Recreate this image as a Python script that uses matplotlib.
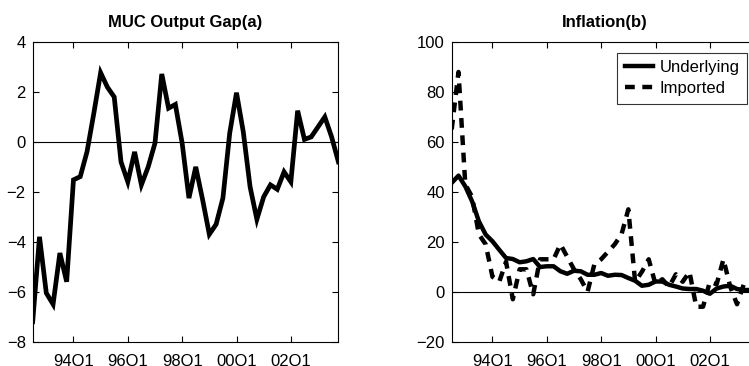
import matplotlib
matplotlib.use("Agg")
import matplotlib.pyplot as plt
import numpy as np

plt.rcParams["font.family"] = ["Liberation Sans", "DejaVu Sans"]

# quarterly data, 92Q3 .. 03Q4
TICK_POS = [6, 14, 22, 30, 38]
TICK_LABELS = ["94Q1", "96Q1", "98Q1", "00Q1", "02Q1"]

output_gap = [
    -7.2, -3.8, -6.05, -6.5, -4.45, -5.6, -1.52, -1.39, -0.39, 1.15,
    2.77, 2.19, 1.8, -0.8, -1.6, -0.4, -1.72, -1.0, -0.05, 2.72,
    1.35, 1.5, -0.05, -2.25, -1.0, -2.3, -3.7, -3.3, -2.25, 0.35,
    1.97, 0.4, -1.8, -3.1, -2.2, -1.72, -1.9, -1.2, -1.6, 1.25,
    0.1, 0.2, 0.6, 1.0, 0.2, -0.8,
]

underlying = [
    43.6, 46.5, 42.2, 36.2, 28.2, 22.9, 20.2, 16.8, 13.5, 13.1,
    11.8, 12.2, 13.1, 9.9, 10.2, 10.2, 8.2, 7.2, 8.4, 8.2,
    6.8, 6.8, 7.5, 6.4, 6.8, 6.7, 5.5, 4.4, 2.4, 2.8,
    4.1, 4.1, 2.8, 2.1, 1.3, 1.1, 1.1, 0.4, -0.8, 1.3,
    2.1, 2.4, 1.1, 0.7, 0.7, 0.7,
]

imported = [
    65, 88, 43, 38, 23, 19, 6, 4, 12, -3,
    9, 9, -1, 13, 13, 13, 19, 14, 9, 5,
    0, 11, 13, 16, 19, 23, 33, 4, 8, 13,
    3, 5, 2, 7, 4, 8, -6, -6, 4, 3,
    13, 2, -5, 3, 1, 1,
]

W, H = 749, 366
fig = plt.figure(figsize=(W / 100, H / 100), dpi=100)

# the right panel runs past the figure edge, as in the original crop
ax1 = fig.add_axes([32.7 / W, 24.3 / H, 305.7 / W, 299.7 / H])
ax2 = fig.add_axes([451.7 / W, 24.3 / H, 305.7 / W, 299.7 / H])

x = np.arange(len(output_gap))

ax1.plot(x, output_gap, color="black", lw=3.4, solid_joinstyle="miter")
ax1.set_ylim(-8, 4)
ax1.set_yticks([-8, -6, -4, -2, 0, 2, 4])
ax1.set_title("MUC Output Gap(a)", fontsize=12, fontweight="bold", pad=11)

ax2.plot(x, underlying, color="black", lw=3.2, label="Underlying")
ax2.plot(x, imported, color="black", lw=3.2, dashes=(2.2, 1.7), label="Imported")
ax2.set_ylim(-20, 100)
ax2.set_yticks([-20, 0, 20, 40, 60, 80, 100])
ax2.set_title("Inflation(b)", fontsize=12, fontweight="bold", pad=11)
leg = ax2.legend(loc="upper left", bbox_to_anchor=(0.542, 0.964), fontsize=12,
                 frameon=True, fancybox=False, handlelength=1.7, borderpad=0.45,
                 labelspacing=0.35, handletextpad=0.4, borderaxespad=0)
leg.get_frame().set_edgecolor("black")
leg.get_frame().set_linewidth(0.8)

for ax in (ax1, ax2):
    ax.axhline(0, color="black", lw=0.8, zorder=1)
    ax.set_xlim(0, 45)
    ax.set_xticks(TICK_POS)
    ax.set_xticklabels(TICK_LABELS)
    ax.tick_params(direction="in", top=True, right=True, length=4, width=0.8,
                   labelsize=12)
    ax.tick_params(axis="x", pad=9)
    ax.tick_params(axis="y", pad=5)
    for s in ax.spines.values():
        s.set_linewidth(0.8)

fig.savefig("out.png", dpi=100)
